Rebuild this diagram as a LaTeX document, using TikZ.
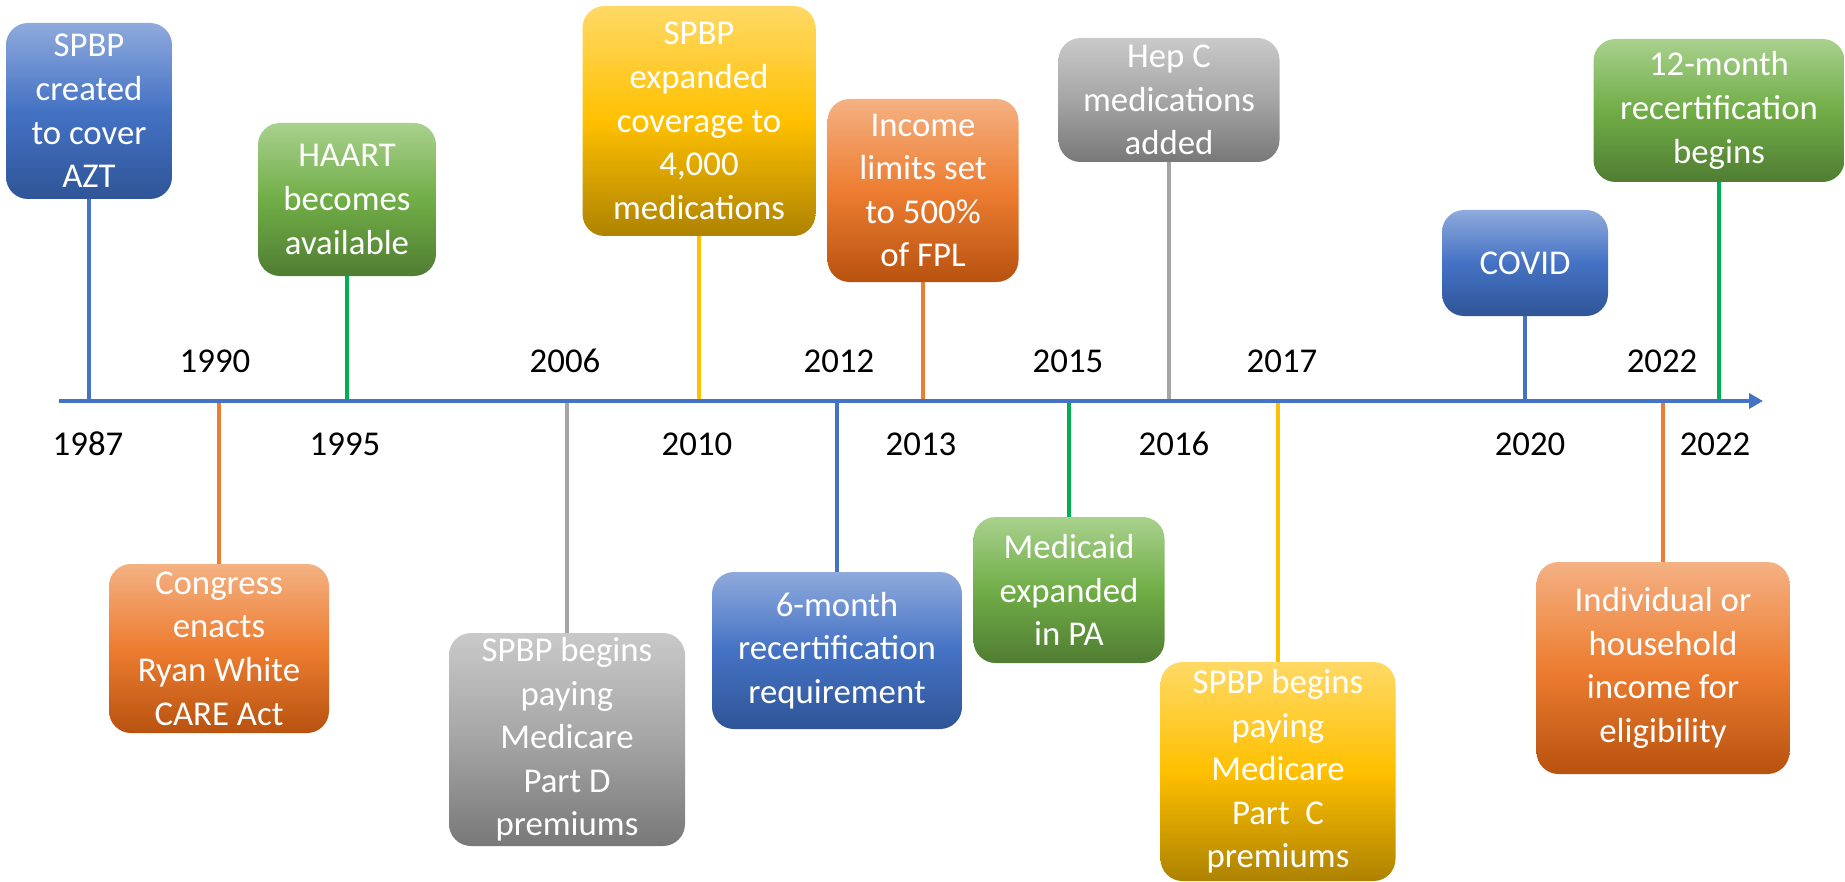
\documentclass[tikz,border=0pt]{standalone}
\usepackage{fontspec}
\setmainfont{Carlito}
\usetikzlibrary{arrows.meta}
\definecolor{bleuH}{HTML}{8FAADC}
\definecolor{bleuM}{HTML}{4472C4}
\definecolor{bleuB}{HTML}{2F5597}
\definecolor{vertH}{HTML}{A9D18E}
\definecolor{vertM}{HTML}{70AD47}
\definecolor{vertB}{HTML}{507D32}
\definecolor{vertL}{HTML}{00B050}
\definecolor{orangeH}{HTML}{F4B183}
\definecolor{orangeM}{HTML}{ED7D31}
\definecolor{orangeB}{HTML}{B8520F}
\definecolor{jauneH}{HTML}{FFD966}
\definecolor{jauneM}{HTML}{FFC000}
\definecolor{jauneB}{HTML}{AD8200}
\definecolor{grisH}{HTML}{C9C9C9}
\definecolor{grisM}{HTML}{A5A5A5}
\definecolor{grisB}{HTML}{787878}
\begin{document}
\begin{tikzpicture}[x=0.5pt,y=-0.5pt]
\tikzset{boite/.style={rounded corners=11pt, inner sep=0pt, align=center, text=white, font=\fontsize{17.4}{21.8}\selectfont},
bleu/.style={boite, top color=bleuH, bottom color=bleuB, middle color=bleuM},
vert/.style={boite, top color=vertH, bottom color=vertB, middle color=vertM},
orange/.style={boite, top color=orangeH, bottom color=orangeB, middle color=orangeM},
jaune/.style={boite, top color=jauneH, bottom color=jauneB, middle color=jauneM},
gris/.style={boite, top color=grisH, bottom color=grisB, middle color=grisM},
annee/.style={font=\fontsize{17.4}{21.8}\selectfont},
lien/.style={line width=2pt}}
\useasboundingbox (0,0) rectangle (1845,882);
\coordinate (A0) at (59,401);
\coordinate (A1) at (1763,401);
\coordinate (T1) at (89,401);
\coordinate (T2) at (219,401);
\coordinate (T3) at (347,401);
\coordinate (T4) at (567,401);
\coordinate (T5) at (699,401);
\coordinate (T6) at (837,401);
\coordinate (T7) at (923,401);
\coordinate (T8) at (1069,401);
\coordinate (T9) at (1169,401);
\coordinate (T10) at (1278,401);
\coordinate (T11) at (1525,401);
\coordinate (T12) at (1663,401);
\coordinate (T13) at (1719,401);
\node[bleu, minimum width=83pt, minimum height=88pt] (E1) at (89,111) {SPBP\\created\\to cover\\AZT};
\node[orange, minimum width=110pt, minimum height=84.5pt] (E2) at (219,648.5) {Congress\\enacts\\Ryan White\\CARE Act};
\node[vert, minimum width=89pt, minimum height=76.5pt] (E3) at (347,199.5) {HAART\\becomes\\available};
\node[gris, minimum width=118pt, minimum height=106.5pt] (E4) at (567,739.5) {SPBP begins\\paying\\Medicare\\Part D\\premiums};
\node[jaune, minimum width=116.5pt, minimum height=115pt] (E5) at (699,121) {SPBP\\expanded\\coverage to\\4,000\\medications};
\node[bleu, minimum width=125pt, minimum height=78.5pt] (E6) at (837,650.5) {6-month\\recertification\\requirement};
\node[orange, minimum width=95.5pt, minimum height=91.5pt] (E7) at (923,190.5) {Income\\limits set\\to 500\%\\of FPL};
\node[vert, minimum width=95.5pt, minimum height=73pt] (E8) at (1069,590) {Medicaid\\expanded\\in PA};
\node[gris, minimum width=110.5pt, minimum height=62pt] (E9) at (1169,100) {Hep C\\medications\\added};
\node[jaune, minimum width=117.5pt, minimum height=109.5pt] (E10) at (1278,771.5) {SPBP begins\\paying\\Medicare\\Part~ C\\premiums};
\node[bleu, minimum width=83pt, minimum height=53pt] (E11) at (1525,263) {COVID};
\node[orange, minimum width=126.5pt, minimum height=106pt] (E12) at (1663,668) {Individual or\\household\\income for\\eligibility};
\node[vert, minimum width=125.5pt, minimum height=71.5pt] (E13) at (1719,110.5) {12-month\\recertification\\begins};
\node[annee] (Y1) at (88,444) {1987};
\node[annee] (Y2) at (215,361) {1990};
\node[annee] (Y3) at (345,444) {1995};
\node[annee] (Y4) at (565,361) {2006};
\node[annee] (Y5) at (697,444) {2010};
\node[annee] (Y6) at (839,361) {2012};
\node[annee] (Y7) at (921,444) {2013};
\node[annee] (Y8) at (1068,361) {2015};
\node[annee] (Y9) at (1174,444) {2016};
\node[annee] (Y10) at (1282,361) {2017};
\node[annee] (Y11) at (1530,444) {2020};
\node[annee] (Y12) at (1662,361) {2022};
\node[annee] (Y13) at (1715,444) {2022};
\draw[lien, bleuM] (E1) -- (T1);
\draw[lien, orangeM] (E2) -- (T2);
\draw[lien, vertL] (E3) -- (T3);
\draw[lien, grisM] (E4) -- (T4);
\draw[lien, jauneM] (E5) -- (T5);
\draw[lien, bleuM] (E6) -- (T6);
\draw[lien, orangeM] (E7) -- (T7);
\draw[lien, vertL] (E8) -- (T8);
\draw[lien, grisM] (E9) -- (T9);
\draw[lien, jauneM] (E10) -- (T10);
\draw[lien, bleuM] (E11) -- (T11);
\draw[lien, orangeM] (E12) -- (T12);
\draw[lien, vertL] (E13) -- (T13);
\draw[bleuM, line width=1.7pt, -{Triangle[length=7pt, width=7.5pt]}] (A0) -- (A1);
\end{tikzpicture}
\end{document}
